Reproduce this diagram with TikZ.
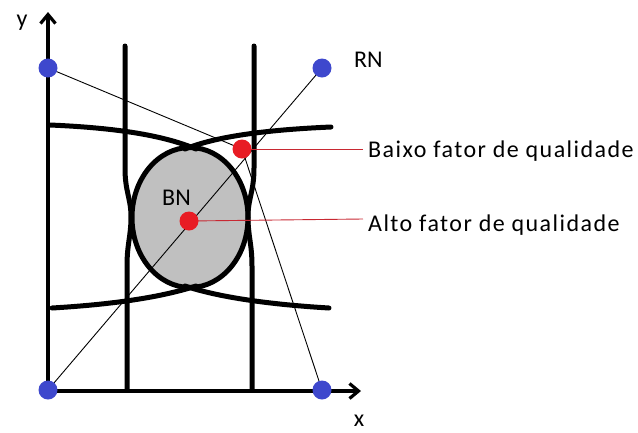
\documentclass[tikz,border=0pt]{standalone}
\usepackage{fontspec}
\setmainfont{Carlito}
\newfontfamily\widefont{Carlito}[LetterSpace=6]
\usetikzlibrary{arrows.meta}
\definecolor{dotblue}{RGB}{62,72,205}
\definecolor{dotred}{RGB}{232,28,36}
\definecolor{fillgray}{RGB}{192,192,192}
\definecolor{linered}{RGB}{200,40,50}
\tikzset{
  thickcurve/.style={line width=5pt, line cap=round},
  axisline/.style={line width=3.2pt, -{Straight Barb[length=9pt,width=15pt]}},
  thinline/.style={line width=0.9pt},
  redline/.style={line width=0.9pt, draw=linered},
  bluedot/.style={circle, fill=dotblue, minimum size=19pt, inner sep=0pt},
  reddot/.style={circle, fill=dotred, minimum size=19pt, inner sep=0pt},
  lbl/.style={inner sep=0pt, font=\fontsize{24}{28}\selectfont},
  sidelbl/.style={inner ysep=0pt, inner xsep=5pt, font=\widefont\fontsize{24}{28}\selectfont, anchor=base west}
}
\begin{document}
\begin{tikzpicture}[x=1pt,y=-1pt]
\useasboundingbox (0,0) rectangle (638,432);
% ellipse
\draw[line width=5pt, fill=fillgray] (190,217.5) ellipse [x radius=58, y radius=70];
% vertical curves
\draw[thickcurve] (125,46) -- (125,168) .. controls (125,192) and (131,198) .. (131,217) .. controls (131,236) and (127,244) .. (127,266) -- (127,390);
\draw[thickcurve] (254,46) -- (254,168) .. controls (254,192) and (248,198) .. (248,217) .. controls (248,236) and (252,244) .. (252,266) -- (252,390);
% horizontal curves
\draw[thickcurve] (50,125) .. controls (120,128) and (165,136) .. (196,149);
\draw[thickcurve] (331,127) .. controls (262,130) and (215,137) .. (185,149);
\draw[thickcurve] (52,308) .. controls (120,304) and (165,296) .. (196,286);
\draw[thickcurve] (329,308) .. controls (262,304) and (215,296) .. (185,286);
% axes
\coordinate (origin) at (48,391);
\coordinate (ytip) at (48,12);
\coordinate (xtip) at (361,391);
\draw[axisline] (origin) -- (ytip);
\draw[axisline] (origin) -- (xtip);
% points
\coordinate (ul) at (48,68);
\coordinate (ur) at (322,68);
\coordinate (ll) at (48,390);
\coordinate (lr) at (322,390);
\coordinate (bp) at (242,149);
\coordinate (ap) at (189,221);
% thin lines
\draw[thinline] (ul) -- (bp) -- (lr);
\draw[thinline] (ll) -- (ur);
% labels on right
\node[sidelbl] (btext) at (363,157) {Baixo fator de qualidade};
\node[sidelbl] (atext) at (363,231) {Alto fator de qualidade};
\draw[redline] (bp) -- (bp -| btext.west);
\draw[redline] (ap) -- ([yshift=2pt]ap -| atext.west);
% dots
\node[bluedot] (ulDot) at (ul) {};
\node[bluedot] (urDot) at (ur) {};
\node[bluedot] (llDot) at (ll) {};
\node[bluedot] (lrDot) at (lr) {};
\node[reddot] (baixo) at (bp) {};
\node[reddot] (alto) at (ap) {};
% text labels
\node[lbl, anchor=base] (ylab) at (22,26) {y};
\node[lbl, anchor=base] (xlab) at (359,426) {x};
\node[lbl, anchor=base west] (rn) at (354,67) {RN};
\node[lbl, anchor=base west] (bn) at (162,205) {BN};
\end{tikzpicture}
\end{document}
